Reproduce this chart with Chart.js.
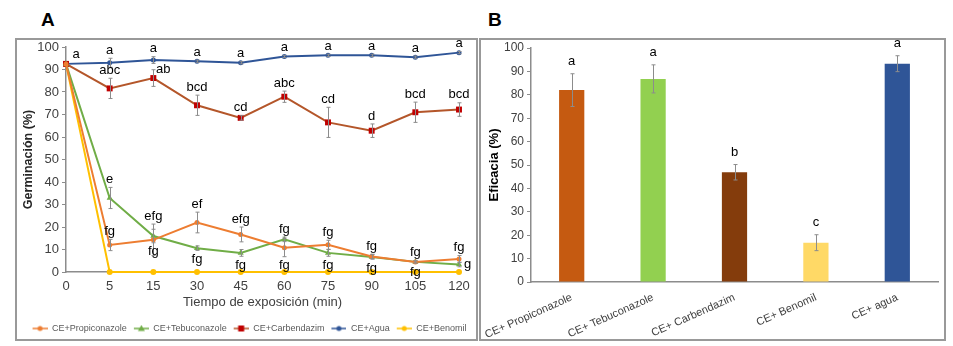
<!DOCTYPE html>
<html>
<head>
<meta charset="utf-8">
<script src="https://cdn.jsdelivr.net/npm/chart.js@4.4.1/dist/chart.umd.min.js"></script>
<style>
  body { margin: 0; background: #fff; width: 953px; height: 346px; overflow: hidden; position: relative; font-family: "Liberation Sans", Arial, sans-serif; }
  .panel { position: absolute; top: 38px; height: 303px; border: 2px solid #999; box-sizing: border-box; }
  #panelA { left: 15px; width: 463px; }
  #panelB { left: 479px; width: 467px; }
  .letra { position: absolute; top: 9px; font-weight: bold; font-size: 19px; color: #000; }
  canvas { display: block; }
</style>
</head>
<body>
<div class="letra" style="left:41px">A</div>
<div class="letra" style="left:488px">B</div>
<div class="panel" id="panelA"><canvas id="graficoA" width="459" height="299"></canvas></div>
<div class="panel" id="panelB"><canvas id="graficoB" width="463" height="299"></canvas></div>
<script>
// Panel A: germinacion vs tiempo
const tiempos = ["0", "5", "15", "30", "45", "60", "75", "90", "105", "120"];

const propiconazole = [92.5, 12, 14.3, 22, 16.7, 10.8, 12.1, 6.9, 4.5, 5.8];
const propiconazoleErr = [0, 2.5, 7, 4.6, 3.3, 4, 2, 1, 0.5, 1.5];
const propiconazoleLetras = ["", "fg", "efg", "ef", "efg", "fg", "fg", "fg", "fg", "fg"];
const propiconazoleLados = ["", "t", "t", "t", "t", "b", "t", "t", "t", "t"];

const tebuconazole = [92.5, 32.9, 16, 10.6, 8.5, 14.5, 8.5, 6.7, 4.5, 3.3];
const tebuconazoleErr = [0, 4.7, 3, 1, 1.5, 1, 1.5, 1, 0.5, 1];
const tebuconazoleLetras = ["", "e", "fg", "fg", "fg", "fg", "fg", "fg", "fg", "g"];
const tebuconazoleLados = ["", "t", "b", "b", "b", "t", "b", "b", "b", "r"];

const carbendazim = [92.5, 81.6, 86.2, 74.1, 68.5, 77.9, 66.5, 62.8, 71, 72.2];
const carbendazimErr = [0, 4.5, 3.7, 4.5, 1, 2.5, 6.7, 3, 4.5, 3];
const carbendazimLetras = ["", "abc", "ab", "bcd", "cd", "abc", "cd", "d", "bcd", "bcd"];
const carbendazimLados = ["", "t", "tr", "t", "t", "t", "t", "t", "t", "t"];

const agua = [92.5, 93, 94.2, 93.7, 93, 95.8, 96.3, 96.3, 95.5, 97.5];
const aguaErr = [0, 2, 1.5, 0.5, 0.5, 0.5, 0.5, 0.5, 0.5, 0.5];
const aguaLetras = ["a", "a", "a", "a", "a", "a", "a", "a", "a", "a"];
const aguaLados = ["tr", "t", "t", "t", "t", "t", "t", "t", "t", "t"];

const benomil = [92.5, 0, 0, 0, 0, 0, 0, 0, 0, 0];

// Panel B: eficacia por tratamiento
const tratamientos = ["CE+ Propiconazole", "CE+ Tebuconazole", "CE+ Carbendazim", "CE+ Benomil", "CE+ agua"];
const eficacia = [82, 86.8, 46.9, 16.8, 93.3];
const eficaciaErr = [7, 6, 3.3, 3.4, 3.4];
const eficaciaLetras = ["a", "a", "b", "c", "a"];
const coloresBarras = ["#C55A11", "#92D050", "#843C0C", "#FFD966", "#2F5597"];

const fuente = "'Liberation Sans', Arial, sans-serif";
Chart.defaults.font.family = fuente;

// icono de leyenda: linea corta con el marcador en el centro (margen a la izquierda)
const iconoLeyenda = (color, forma, colorMarca) => {
  const c = document.createElement("canvas");
  c.width = 21; c.height = 8;
  const g = c.getContext("2d");
  g.strokeStyle = color; g.lineWidth = 1.5;
  g.beginPath(); g.moveTo(6, 4); g.lineTo(21, 4); g.stroke();
  g.fillStyle = colorMarca || color;
  if (forma === "rect") {
    g.fillRect(10.5, 1, 6, 6);
  } else if (forma === "triangle") {
    g.beginPath(); g.moveTo(13.5, 0.5); g.lineTo(17, 6.5); g.lineTo(10, 6.5); g.closePath(); g.fill();
  } else {
    g.beginPath(); g.arc(13.5, 4, 2.5, 0, Math.PI * 2); g.fill();
  }
  return c;
};

const barrasError = {
  id: "barrasError",
  afterDatasetsDraw(chart) {
    const ctx = chart.ctx;
    const y = chart.scales.y;
    chart.data.datasets.forEach((ds, i) => {
      if (!ds.errores) return;
      const meta = chart.getDatasetMeta(i);
      ctx.save();
      ctx.strokeStyle = "#8c8c8c";
      ctx.lineWidth = 1;
      meta.data.forEach((el, j) => {
        const e = ds.errores[j];
        if (!e) return;
        const x = Math.round(el.x) + 0.5;
        const arriba = y.getPixelForValue(ds.data[j] + e);
        const abajo = y.getPixelForValue(ds.data[j] - e);
        ctx.beginPath();
        ctx.moveTo(x, arriba); ctx.lineTo(x, abajo);
        ctx.moveTo(x - 2, arriba); ctx.lineTo(x + 2, arriba);
        ctx.moveTo(x - 2, abajo); ctx.lineTo(x + 2, abajo);
        ctx.stroke();
      });
      ctx.restore();
    });
  }
};

const letrasSignificancia = {
  id: "letrasSignificancia",
  afterDatasetsDraw(chart, args, opts) {
    const ctx = chart.ctx;
    const y = chart.scales.y;
    chart.data.datasets.forEach((ds, i) => {
      if (!ds.letras) return;
      const meta = chart.getDatasetMeta(i);
      ctx.save();
      ctx.fillStyle = "#000";
      ctx.font = (opts.size || 13) + "px " + fuente;
      ctx.textBaseline = "middle";
      meta.data.forEach((el, j) => {
        const txt = ds.letras[j];
        if (!txt) return;
        const e = (ds.errores && ds.errores[j]) || 0;
        const lado = ds.lados ? ds.lados[j] : "t";
        let px = el.x, py;
        ctx.textAlign = "center";
        if (lado === "b") {
          py = y.getPixelForValue(ds.data[j] - e) + 9;
        } else if (lado === "r") {
          px = el.x + 5; py = el.y;
          ctx.textAlign = "left";
        } else if (lado === "tr") {
          px = el.x + 10; py = el.y - 9;
        } else {
          py = y.getPixelForValue(ds.data[j] + e) - (opts.gap || 8);
        }
        ctx.fillText(txt, px, py);
      });
      ctx.restore();
    });
  }
};

const serie = (label, data, color, forma, radio, colorMarca, errores, letras, lados) => ({
  label, data, errores, letras, lados,
  borderColor: color,
  backgroundColor: colorMarca || color,
  pointBackgroundColor: colorMarca || color,
  pointBorderColor: colorMarca || color,
  pointStyle: forma,
  pointRadius: radio,
  pointBorderWidth: 0,
  borderWidth: 2,
  tension: 0,
  clip: false,
  icono: iconoLeyenda(color, forma, colorMarca)
});

new Chart(document.getElementById("graficoA").getContext("2d"), {
  type: "line",
  data: {
    labels: tiempos,
    datasets: [
      serie("CE+Propiconazole", propiconazole, "#ED7D31", "circle", 2.5, null, propiconazoleErr, propiconazoleLetras, propiconazoleLados),
      serie("CE+Tebuconazole", tebuconazole, "#70AD47", "triangle", 3.5, null, tebuconazoleErr, tebuconazoleLetras, tebuconazoleLados),
      serie("CE+Carbendazim", carbendazim, "#B4562A", "rect", 4.2, "#C00000", carbendazimErr, carbendazimLetras, carbendazimLados),
      serie("CE+Agua", agua, "#2F5597", "circle", 2.5, null, aguaErr, aguaLetras, aguaLados),
      serie("CE+Benomil", benomil, "#FFC000", "circle", 3, null, null, null, null)
    ]
  },
  options: {
    responsive: false,
    animation: false,
    layout: { padding: { top: 7, right: 4, left: 4, bottom: -4 } },
    plugins: {
      tooltip: { enabled: false },
      letrasSignificancia: { size: 13, gap: 8 },
      legend: {
        position: "bottom",
        labels: {
          usePointStyle: true,
          pointStyleWidth: 21,
          padding: 1,
          color: "#595959",
          font: { size: 9 },
          generateLabels: (chart) => chart.data.datasets.map((ds, i) => ({
            text: ds.label,
            datasetIndex: i,
            pointStyle: ds.icono,
            fontColor: "#595959",
            lineWidth: 0,
            strokeStyle: "transparent",
            fillStyle: "transparent",
            hidden: false
          }))
        }
      }
    },
    scales: {
      x: {
        offset: false,
        grid: { display: false, drawTicks: false },
        border: { color: "#8c8c8c", width: 1.5 },
        ticks: { font: { size: 13 }, color: "#404040", padding: 7, autoSkip: false, maxRotation: 0 },
        title: { display: true, text: "Tiempo de exposición (min)", font: { size: 13 }, color: "#404040", padding: { top: 1, bottom: 13 } },
        afterFit: (s) => { s.height = 51; s.paddingLeft = 0; s.paddingRight = 17; }
      },
      y: {
        min: 0,
        max: 100,
        ticks: { stepSize: 10, font: { size: 13 }, color: "#404040", padding: 3 },
        grid: { drawOnChartArea: false, tickLength: 4, color: "#8c8c8c" },
        border: { color: "#8c8c8c", width: 1.5 },
        title: { display: true, text: "Germinación (%)", font: { size: 12.5, weight: "bold" }, color: "#262626", padding: 0 },
        afterFit: (s) => { s.width = 45; s.paddingTop = 0; s.paddingBottom = 0; }
      }
    }
  },
  plugins: [barrasError, letrasSignificancia]
});

new Chart(document.getElementById("graficoB").getContext("2d"), {
  type: "bar",
  data: {
    labels: tratamientos,
    datasets: [{
      label: "Eficacia",
      data: eficacia,
      errores: eficaciaErr,
      letras: eficaciaLetras,
      backgroundColor: coloresBarras,
      borderWidth: 0,
      categoryPercentage: 1,
      barPercentage: 0.31
    }]
  },
  options: {
    responsive: false,
    animation: false,
    layout: { padding: { top: 8, right: 6, left: 6, bottom: 0 } },
    plugins: {
      legend: { display: false },
      tooltip: { enabled: false },
      letrasSignificancia: { size: 13, gap: 12 }
    },
    scales: {
      x: {
        grid: { display: false },
        border: { color: "#8c8c8c", width: 1.5 },
        ticks: { font: { size: 11 }, color: "#404040", minRotation: 24, maxRotation: 24, autoSkip: false, padding: 1 },
        afterFit: (s) => { s.height = 57; s.paddingLeft = 0; s.paddingRight = 0; }
      },
      y: {
        min: 0,
        max: 100,
        ticks: { stepSize: 10, font: { size: 12 }, color: "#404040", padding: 3 },
        grid: { drawOnChartArea: false, tickLength: 4, color: "#8c8c8c" },
        border: { color: "#8c8c8c", width: 1.5 },
        title: { display: true, text: "Eficacia (%)", font: { size: 13, weight: "bold" }, color: "#000", padding: 0 },
        afterFit: (s) => { s.width = 44; s.paddingTop = 0; s.paddingBottom = 0; }
      }
    }
  },
  plugins: [barrasError, letrasSignificancia]
});
</script>
</body>
</html>
